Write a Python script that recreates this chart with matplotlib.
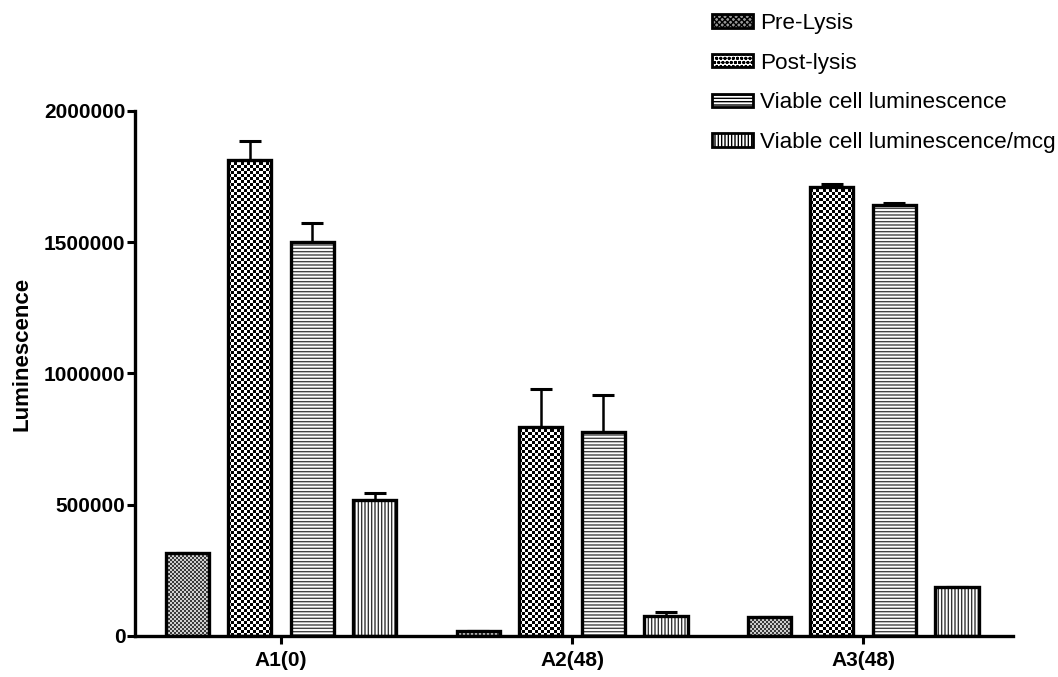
import numpy as np
import matplotlib
matplotlib.use("Agg")
import matplotlib.pyplot as plt
from matplotlib.colors import ListedColormap
from matplotlib.patches import Patch

plt.rcParams["font.family"] = ["Liberation Sans", "DejaVu Sans"]
plt.rcParams["hatch.linewidth"] = 1.0

groups = ["A1(0)", "A2(48)", "A3(48)"]
series = ["Pre-Lysis", "Post-lysis", "Viable cell luminescence", "Viable cell luminescence/mcg"]
pre_lysis = [315000, 19000, 72000]
post_lysis = [1815000, 797000, 1712000]
viable = [1500000, 777000, 1642000]
viable_mcg = [518000, 77000, 187000]
pre_err = [0, 0, 0]
post_err = [72000, 145000, 10000]
viable_err = [75000, 142000, 8000]
mcg_err = [27000, 14000, 0]

values = [pre_lysis, post_lysis, viable, viable_mcg]
errors = [pre_err, post_err, viable_err, mcg_err]
# fill style per series: checker patterns drawn as images, lines as hatches
fills = [("checker", 2, ("#cfcfcf", "#3a3a3a")), ("checker", 3, ("white", "black")),
         ("hatch", "-----", "#444444"), ("hatch", "|||||", "#333333")]

fig = plt.figure(figsize=(10.58, 6.77), dpi=100)
ax = fig.add_axes([0.1276, 0.0606, 0.8299, 0.7755])
ax.set_ylim(0, 2000000)
ax.set_xlim(-0.502, 2.515)

x = np.arange(len(groups))
step = 0.215
width = 0.148
for i, (vals, errs) in enumerate(zip(values, errors)):
    pos = x + (i - 1.5) * step
    kind, arg, col = fills[i]
    bars = ax.bar(pos, vals, width, facecolor="none" if kind == "checker" else "white",
                  edgecolor="black", linewidth=2.4,
                  hatch=arg if kind == "hatch" else None, zorder=2)
    if kind == "hatch":
        for b in bars:
            b._hatch_color = matplotlib.colors.to_rgba(col)
    else:
        for b in bars:
            x0, y0 = ax.transData.transform((b.get_x(), 0))
            x1, y1 = ax.transData.transform((b.get_x() + b.get_width(), b.get_height()))
            nc = max(1, int(round((x1 - x0) / arg)))
            nr = max(1, int(round((y1 - y0) / arg)))
            checker = np.indices((nr, nc)).sum(0) % 2
            ax.imshow(checker, extent=(b.get_x(), b.get_x() + b.get_width(), 0, b.get_height()),
                      cmap=ListedColormap(list(col)), interpolation="nearest",
                      aspect="auto", zorder=1.5)
    ax.errorbar(pos, vals, yerr=[np.zeros(len(errs)), errs], fmt="none",
                ecolor="black", elinewidth=1.8, capsize=8, capthick=2.2, zorder=1)

ax.set_ylim(0, 2000000)
ax.set_xlim(-0.502, 2.515)
ax.set_yticks([0, 500000, 1000000, 1500000, 2000000])
ax.set_yticklabels(["0", "500000", "1000000", "1500000", "2000000"])
ax.set_xticks(x)
ax.set_xticklabels(groups)
for lab in ax.get_xticklabels() + ax.get_yticklabels():
    lab.set_fontweight("bold")
    lab.set_fontsize(15)
ax.tick_params(axis="y", width=2.2, length=6, direction="out", pad=1)
ax.tick_params(axis="x", width=2.2, length=6, direction="out", pad=5)
ax.spines["top"].set_visible(False)
ax.spines["right"].set_visible(False)
ax.spines["left"].set_linewidth(2.4)
ax.spines["bottom"].set_linewidth(2.4)
ax.set_ylabel("Luminescence", fontsize=16, fontweight="bold")
ax.yaxis.set_label_coords(-0.117, 0.537)

handles = [
    Patch(facecolor="#999999", edgecolor="black", linewidth=2, hatch="xxxxxx"),
    Patch(facecolor="white", edgecolor="black", linewidth=2, hatch="oooo"),
    Patch(facecolor="white", edgecolor="black", linewidth=2, hatch="-----"),
    Patch(facecolor="white", edgecolor="black", linewidth=2, hatch="|||||"),
]
fig.legend(handles, series, loc="upper left", bbox_to_anchor=(0.673, 0.981),
           frameon=False, fontsize=16.2, handlelength=1.82, handleheight=0.53,
           handletextpad=0.31, labelspacing=0.83, borderpad=0, borderaxespad=0)

fig.savefig("out.png", dpi=100)
